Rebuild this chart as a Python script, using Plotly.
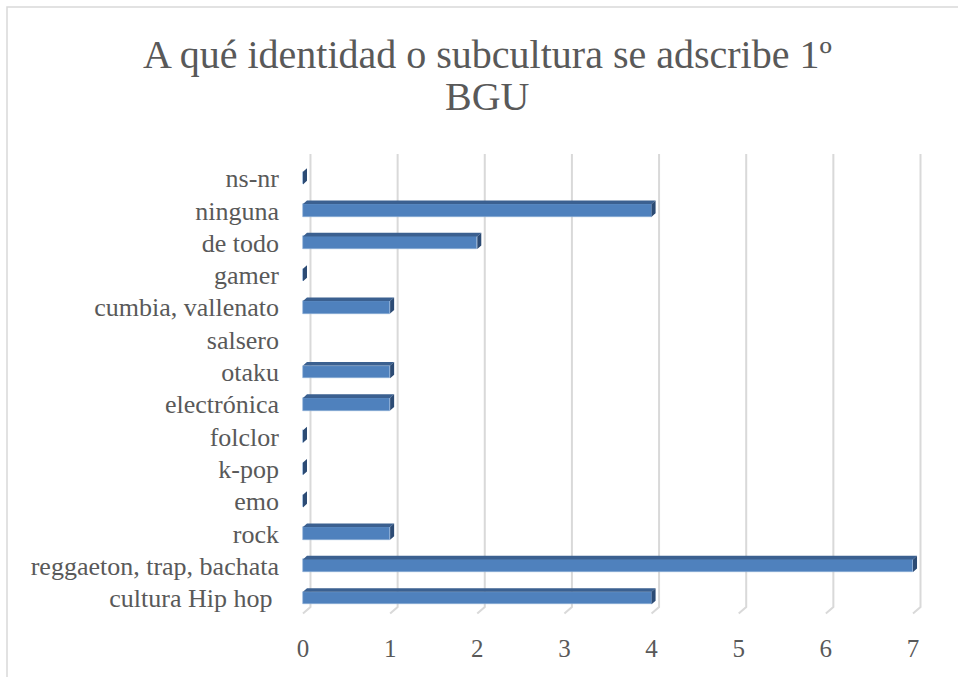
import plotly.graph_objects as go

# Survey answers: identity / subculture, 1º BGU
categories = [
    "cultura Hip hop\u00a0",
    "reggaeton, trap, bachata",
    "rock",
    "emo",
    "k-pop",
    "folclor",
    "electrónica",
    "otaku",
    "salsero",
    "cumbia, vallenato",
    "gamer",
    "de todo",
    "ninguna",
    "ns-nr",
]
values = [4, 7, 1, 0, 0, 0, 1, 1, None, 1, 0, 2, 4, 0]
x_ticks = [0, 1, 2, 3, 4, 5, 6, 7]
title_lines = ["A qué identidad o subcultura se adscribe 1º", "BGU"]

# Figure / plot-area geometry
W, H = 958, 677
L, R, T, B = 290, 30, 150, 50
PW, PH = W - L - R, H - T - B
X_RANGE = [-0.149, 7.172]
Y_RANGE = [-0.898, 13.87]

# Pseudo-3D look (in data units)
BAR_H = 0.39          # thickness of the front face
DX, DY = 0.046, 0.11  # depth of each bar
WALL_DX = 0.086       # back-wall offset of the gridlines
WALL_TOP = 13.75
FLOOR_BACK, FLOOR_FRONT = -0.28, -0.48

FONT = "Liberation Serif"
GREY = "#595959"
FRONT = "#4f81bd"
TOP = "#3b6090"
SIDE = "#2c4b74"


def px_to_paper_x(px):
    return (px - L) / PW


def px_to_paper_y(py):
    return (H - B - py) / PH


fig = go.Figure()

ys = list(range(len(categories)))

# Front faces
fig.add_trace(go.Bar(
    x=values, y=ys, orientation="h", width=BAR_H, base=0,
    marker=dict(color=FRONT, line=dict(width=0.6, color="#8fb0d8")),
    hoverinfo="skip", showlegend=False,
))

# Top and right-end faces, built from the same values
top_x, top_y, side_x, side_y = [], [], [], []
for i, v in enumerate(values):
    if v is None:
        continue
    yt = i + BAR_H / 2
    yb = i - BAR_H / 2
    top_x += [0, v, v + DX, DX, 0, None]
    top_y += [yt, yt, yt + DY, yt + DY, yt, None]
    side_x += [v, v + DX, v + DX, v, v, None]
    side_y += [yb, yb + DY, yt + DY, yt, yb, None]

fig.add_trace(go.Scatter(
    x=top_x, y=top_y, mode="lines", fill="toself", fillcolor=TOP,
    line=dict(width=0, color=TOP), hoverinfo="skip", showlegend=False,
))
fig.add_trace(go.Scatter(
    x=side_x, y=side_y, mode="lines", fill="toself", fillcolor=SIDE,
    line=dict(width=0, color=SIDE), hoverinfo="skip", showlegend=False,
))

# Back-wall gridlines with floor edge
shapes = []
for k in x_ticks:
    path = (f"M {k + WALL_DX},{WALL_TOP} L {k + WALL_DX},{FLOOR_BACK} "
            f"L {k},{FLOOR_FRONT}")
    shapes.append(dict(type="path", path=path, xref="x", yref="y",
                       line=dict(color="#d9d9d9", width=2), layer="below"))

# Chart-area border
shapes.append(dict(type="rect", xref="paper", yref="paper",
                   x0=px_to_paper_x(7), x1=px_to_paper_x(980),
                   y0=px_to_paper_y(700), y1=px_to_paper_y(7),
                   line=dict(color="#d9d9d9", width=1.5), layer="below"))

annotations = []
for text, py in zip(title_lines, [55, 97]):
    annotations.append(dict(
        text=text, xref="paper", yref="paper",
        x=px_to_paper_x(487), y=px_to_paper_y(py),
        xanchor="center", yanchor="middle", showarrow=False,
        font=dict(family=FONT, size=40, color=GREY),
    ))

fig.update_layout(
    width=W, height=H,
    margin=dict(l=L, r=R, t=T, b=B, pad=0),
    paper_bgcolor="white", plot_bgcolor="white",
    shapes=shapes, annotations=annotations,
    bargap=0,
    xaxis=dict(
        range=X_RANGE, tickvals=x_ticks, ticktext=[str(t) for t in x_ticks],
        showgrid=False, zeroline=False, showline=False, ticks="",
        tickfont=dict(family=FONT, size=25, color=GREY),
        ticklabelstandoff=4, fixedrange=True,
    ),
    yaxis=dict(
        range=Y_RANGE, tickvals=ys, ticktext=categories,
        showgrid=False, zeroline=False, showline=False, ticks="",
        tickfont=dict(family=FONT, size=26, color=GREY),
        ticklabelstandoff=10, fixedrange=True,
    ),
)

fig.write_html("out.html")
